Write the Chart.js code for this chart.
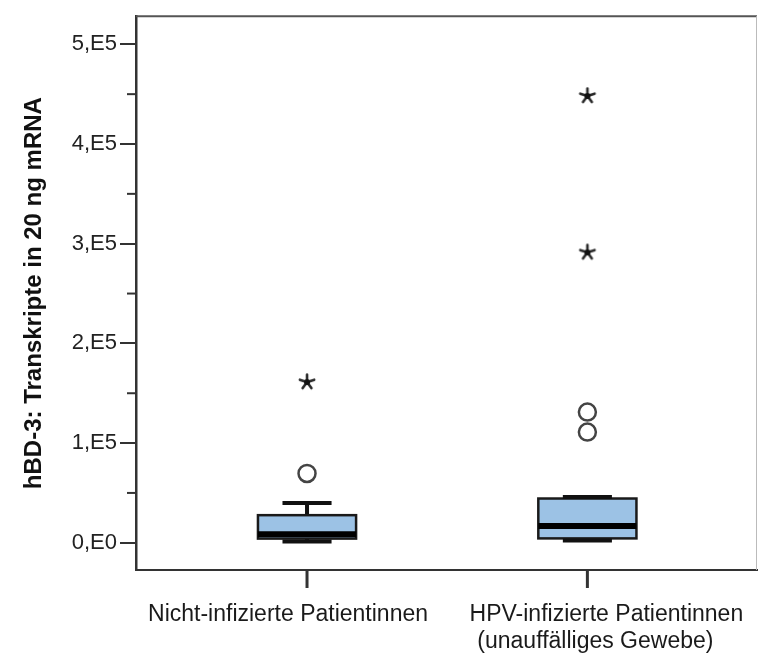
<!DOCTYPE html>
<html>
<head>
<meta charset="utf-8">
<script src="https://cdn.jsdelivr.net/npm/chart.js@4/dist/chart.umd.min.js"></script>
<style>
  html, body { margin: 0; padding: 0; background: #fff; }
  #wrap { width: 758px; height: 657px; }
</style>
</head>
<body>
<div id="wrap"><canvas id="chart"></canvas></div>
<script>
// Gruppen und Kennwerte der Boxplots (Transkripte in 20 ng mRNA)
var gruppen = [
    ['Nicht-infizierte Patientinnen'],
    ['HPV-infizierte Patientinnen', '(unauffälliges Gewebe)']
];
var whiskerUnten = [1200, 2200];
var quartil1 = [4200, 4400];
var medianWerte = [8500, 16900];
var quartil3 = [27700, 44400];
var whiskerOben = [40000, 46000];
// Ausreißer (Kreis) und Extremwerte (Stern)
var ausreisser = [[69500], [131100, 111100]];
var extremwerte = [[161200], [448200, 291300]];
// Y-Achse
var yTickWerte = [0, 50000, 100000, 150000, 200000, 250000, 300000, 350000, 400000, 450000, 500000];
var yTickTexte = ['0,E0', '1,E5', '2,E5', '3,E5', '4,E5', '5,E5'];

// Punkte für Scatter bauen
function punkteAus(liste) {
    var pts = [];
    liste.forEach(function (werte, i) {
        werte.forEach(function (v) { pts.push({ x: i, y: v }); });
    });
    return pts;
}

// Stern als eigenes Punktsymbol
function sternBild() {
    var c = document.createElement('canvas');
    c.width = 20; c.height = 20;
    var g = c.getContext('2d');
    g.strokeStyle = '#2a2a2a';
    g.lineWidth = 2.6;
    g.lineCap = 'round';
    for (var k = 0; k < 5; k++) {
        var a = -Math.PI / 2 + k * 2 * Math.PI / 5;
        g.beginPath();
        g.moveTo(10, 10);
        g.lineTo(10 + Math.cos(a) * 7.5, 10 + Math.sin(a) * 7.5);
        g.stroke();
    }
    g.fillStyle = '#111';
    g.beginPath(); g.arc(10, 10, 3, 0, Math.PI * 2); g.fill();
    return c;
}

var boxBreite = 0.35;
var kappeBreite = 0.175;

var boxPlugin = {
    id: 'boxplot',
    beforeDatasetsDraw: function (chart) {
        var ctx = chart.ctx;
        var x = chart.scales.x, y = chart.scales.y;
        ctx.save();
        for (var i = 0; i < medianWerte.length; i++) {
            var cx = x.getPixelForValue(i);
            var halb = (x.getPixelForValue(boxBreite) - x.getPixelForValue(0)) / 2;
            var kHalb = (x.getPixelForValue(kappeBreite) - x.getPixelForValue(0)) / 2;
            var yQ1 = y.getPixelForValue(quartil1[i]);
            var yQ3 = y.getPixelForValue(quartil3[i]);
            var yMed = y.getPixelForValue(medianWerte[i]);
            var yLo = y.getPixelForValue(whiskerUnten[i]);
            var yHi = y.getPixelForValue(whiskerOben[i]);

            // Whisker
            ctx.strokeStyle = '#111';
            ctx.lineWidth = 4;
            ctx.beginPath();
            ctx.moveTo(cx, yHi); ctx.lineTo(cx, yQ3);
            ctx.moveTo(cx, yQ1); ctx.lineTo(cx, yLo);
            ctx.stroke();

            // Box
            ctx.fillStyle = '#9cc2e5';
            ctx.fillRect(cx - halb, yQ3, halb * 2, yQ1 - yQ3);
            ctx.lineWidth = 2.5;
            ctx.strokeStyle = '#1a1a1a';
            ctx.strokeRect(cx - halb, yQ3, halb * 2, yQ1 - yQ3);

            // Kappen
            ctx.lineWidth = 4;
            ctx.strokeStyle = '#111';
            ctx.beginPath();
            ctx.moveTo(cx - kHalb, yHi); ctx.lineTo(cx + kHalb, yHi);
            ctx.moveTo(cx - kHalb, yLo); ctx.lineTo(cx + kHalb, yLo);
            ctx.stroke();

            // Median
            ctx.lineWidth = 6;
            ctx.strokeStyle = '#000';
            ctx.beginPath();
            ctx.moveTo(cx - halb, yMed); ctx.lineTo(cx + halb, yMed);
            ctx.stroke();
        }
        ctx.restore();
    },
    afterDraw: function (chart) {
        var ctx = chart.ctx;
        var x = chart.scales.x, y = chart.scales.y;
        var area = chart.chartArea;
        ctx.save();
        // Rahmen oben und rechts
        ctx.strokeStyle = '#555';
        ctx.lineWidth = 2;
        ctx.beginPath();
        ctx.moveTo(area.left, area.top); ctx.lineTo(area.right, area.top);
        ctx.stroke();
        ctx.strokeStyle = '#bbb';
        ctx.lineWidth = 1;
        ctx.beginPath();
        ctx.moveTo(area.right - 0.5, area.top); ctx.lineTo(area.right - 0.5, area.bottom);
        ctx.stroke();

        // kleine Striche der Y-Achse
        ctx.strokeStyle = '#333';
        ctx.lineWidth = 2;
        yTickWerte.forEach(function (v) {
            if (v % 100000 !== 0) {
                var py = y.getPixelForValue(v);
                ctx.beginPath();
                ctx.moveTo(area.left - 9, py); ctx.lineTo(area.left, py);
                ctx.stroke();
            }
        });

        // Striche und Beschriftung der X-Achse
        var verschiebung = [[-19], [19, 8]];
        ctx.lineWidth = 3;
        ctx.fillStyle = '#1a1a1a';
        ctx.font = '23px "Liberation Sans Narrow", "Liberation Sans", Arial, sans-serif';
        ctx.textAlign = 'center';
        ctx.textBaseline = 'middle';
        gruppen.forEach(function (zeilen, i) {
            var px = x.getPixelForValue(i);
            ctx.beginPath();
            ctx.moveTo(px, area.bottom); ctx.lineTo(px, area.bottom + 18);
            ctx.stroke();
            zeilen.forEach(function (t, j) {
                ctx.fillText(t, px + verschiebung[i][j], area.bottom + 45 + j * 27);
            });
        });
        ctx.restore();
    }
};

var ctx = document.getElementById('chart').getContext('2d');
window.myChart = new Chart(ctx, {
    type: 'scatter',
    data: {
        datasets: [{
            label: 'Ausreißer',
            data: punkteAus(ausreisser),
            pointStyle: 'circle',
            pointRadius: 8.5,
            backgroundColor: 'rgba(0,0,0,0)',
            borderColor: '#444',
            borderWidth: 2.5
        }, {
            label: 'Extremwerte',
            data: punkteAus(extremwerte),
            pointStyle: sternBild(),
            pointRadius: 10
        }]
    },
    options: {
        responsive: true,
        maintainAspectRatio: false,
        animation: false,
        layout: { autoPadding: false, padding: { top: 15, right: 1, left: 0, bottom: 0 } },
        plugins: {
            legend: { display: false },
            tooltip: { enabled: false }
        },
        scales: {
            x: {
                type: 'linear',
                min: -0.61,
                max: 1.605,
                afterBuildTicks: function (s) { s.ticks = []; },
                ticks: { display: false },
                grid: { display: false },
                border: { display: true, color: '#333', width: 2 },
                afterFit: function (s) { s.height = 87; }
            },
            y: {
                min: -27300,
                max: 528200,
                afterBuildTicks: function (s) {
                    s.ticks = yTickWerte.map(function (v) { return { value: v }; });
                },
                ticks: {
                    padding: 3,
                    color: '#222',
                    font: { family: '"Liberation Sans", Arial, sans-serif', size: 22 },
                    callback: function (v) {
                        return v % 100000 === 0 ? yTickTexte[v / 100000] : '';
                    }
                },
                grid: {
                    drawOnChartArea: false,
                    drawTicks: true,
                    tickLength: 16,
                    lineWidth: 2,
                    color: function (c) {
                        return c.tick && c.tick.value % 100000 === 0 ? '#333' : 'rgba(0,0,0,0)';
                    }
                },
                border: { display: true, color: '#333', width: 2.5 },
                title: {
                    display: true,
                    text: 'hBD-3: Transkripte in 20 ng mRNA',
                    color: '#111',
                    font: { family: '"Liberation Sans", Arial, sans-serif', size: 24, weight: 'bold' },
                    padding: { top: 20, bottom: 0 }
                },
                afterFit: function (s) { s.width = 136; }
            }
        }
    },
    plugins: [boxPlugin]
});
</script>
</body>
</html>
